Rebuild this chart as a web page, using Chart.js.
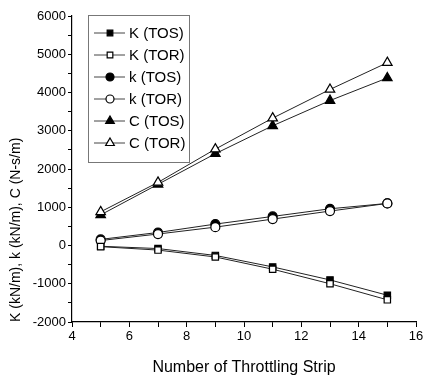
<!DOCTYPE html>
<html>
<head>
<meta charset="utf-8">
<script src="https://cdn.jsdelivr.net/npm/chart.js@4"></script>
<style>
  html, body { margin: 0; padding: 0; background: #fff; }
  #wrap { width: 428px; height: 381px; }
</style>
</head>
<body>
<div id="wrap"><canvas id="chart" width="428" height="381"></canvas></div>
<script>
// number of throttling strips
const strips = [5, 7, 9, 11, 13, 15];

// stiffness / damping values
const bigK_TOS = [-20, -80, -260, -560, -900, -1300];
const bigK_TOR = [-30, -120, -300, -620, -1000, -1420];
const smallK_TOS = [160, 340, 560, 760, 960, 1100];
const smallK_TOR = [130, 300, 480, 690, 900, 1100];
const C_TOS = [800, 1600, 2400, 3130, 3790, 4380];
const C_TOR = [880, 1650, 2520, 3330, 4080, 4780];

const yTicks = [6000, 5000, 4000, 3000, 2000, 1000, 0, -1000, -2000];
const xTicks = [4, 6, 8, 10, 12, 14, 16];

const FONT = "'Liberation Sans', Arial, sans-serif";

function series(label, values, style, filled, order) {
    return {
        label: label,
        data: strips.map((x, i) => ({ x: x, y: values[i] })),
        borderColor: "#222",
        borderWidth: 1,
        pointStyle: style,
        pointRadius: style === "triangle" ? 5.5 : 4.5,
        pointBorderWidth: 1.2,
        pointBorderColor: "#000",
        pointBackgroundColor: filled ? "#000" : "#fff",
        showLine: true,
        order: order
    };
}

// legend drawn inside the plot area, like the original figure
const boxLegend = {
    id: "boxLegend",
    afterDraw(chart) {
        const ctx = chart.ctx;
        const sets = chart.data.datasets;
        ctx.save();
        ctx.strokeStyle = "#777";
        ctx.lineWidth = 1;
        ctx.strokeRect(88.5, 15.5, 101, 147);
        ctx.font = "15px " + FONT;
        ctx.textBaseline = "middle";
        sets.forEach((ds, i) => {
            const y = 33 + i * 22;
            ctx.strokeStyle = "#444";
            ctx.lineWidth = 1;
            ctx.beginPath();
            ctx.moveTo(94, y);
            ctx.lineTo(125, y);
            ctx.stroke();
            ctx.fillStyle = ds.pointBackgroundColor;
            ctx.strokeStyle = "#000";
            ctx.lineWidth = 1.2;
            Chart.helpers.drawPoint(ctx, {
                pointStyle: ds.pointStyle,
                radius: ds.pointStyle === "triangle" ? 5 : 4,
                rotation: 0,
                borderWidth: 1.2
            }, 110, y);
            ctx.fillStyle = "#000";
            ctx.fillText(ds.label, 129, y + 1);
        });
        ctx.restore();
    }
};

new Chart(document.getElementById("chart"), {
    type: "scatter",
    data: {
        datasets: [
            series("K (TOS)", bigK_TOS, "rect", true, 2),
            series("K (TOR)", bigK_TOR, "rect", false, 1),
            series("k (TOS)", smallK_TOS, "circle", true, 2),
            series("k (TOR)", smallK_TOR, "circle", false, 1),
            series("C (TOS)", C_TOS, "triangle", true, 2),
            series("C (TOR)", C_TOR, "triangle", false, 1)
        ]
    },
    options: {
        responsive: false,
        animation: false,
        layout: { padding: { top: 16, right: 12, left: 0, bottom: 0 } },
        plugins: {
            legend: { display: false },
            tooltip: { enabled: false }
        },
        scales: {
            x: {
                type: "linear",
                min: 4,
                max: 16,
                border: { color: "#000", width: 1.2 },
                grid: { drawOnChartArea: false, drawTicks: true, tickLength: 5, color: "#000" },
                ticks: {
                    stepSize: 1,
                    color: "#000",
                    font: { family: FONT, size: 13 },
                    padding: 2,
                    callback: v => xTicks.includes(v) ? String(v) : ""
                },
                title: {
                    display: true,
                    text: "Number of Throttling Strip",
                    color: "#000",
                    font: { family: FONT, size: 16 },
                    padding: { top: 10 }
                },
                afterFit(axis) { axis.height = 59; }
            },
            y: {
                type: "linear",
                min: -2000,
                max: 6000,
                border: { color: "#000", width: 1.2 },
                grid: { drawOnChartArea: false, drawTicks: true, tickLength: 4, color: "#000" },
                ticks: {
                    stepSize: 500,
                    color: "#000",
                    font: { family: FONT, size: 13 },
                    padding: 2,
                    callback: v => yTicks.includes(v) ? String(v) : ""
                },
                title: {
                    display: true,
                    text: "K (kN/m), k (kN/m), C (N-s/m)",
                    color: "#000",
                    align: "start",
                    font: { family: FONT, size: 14 },
                    padding: { top: 8, bottom: 4 }
                },
                afterFit(axis) { axis.width = 72; }
            }
        }
    },
    plugins: [boxLegend]
});
</script>
</body>
</html>
